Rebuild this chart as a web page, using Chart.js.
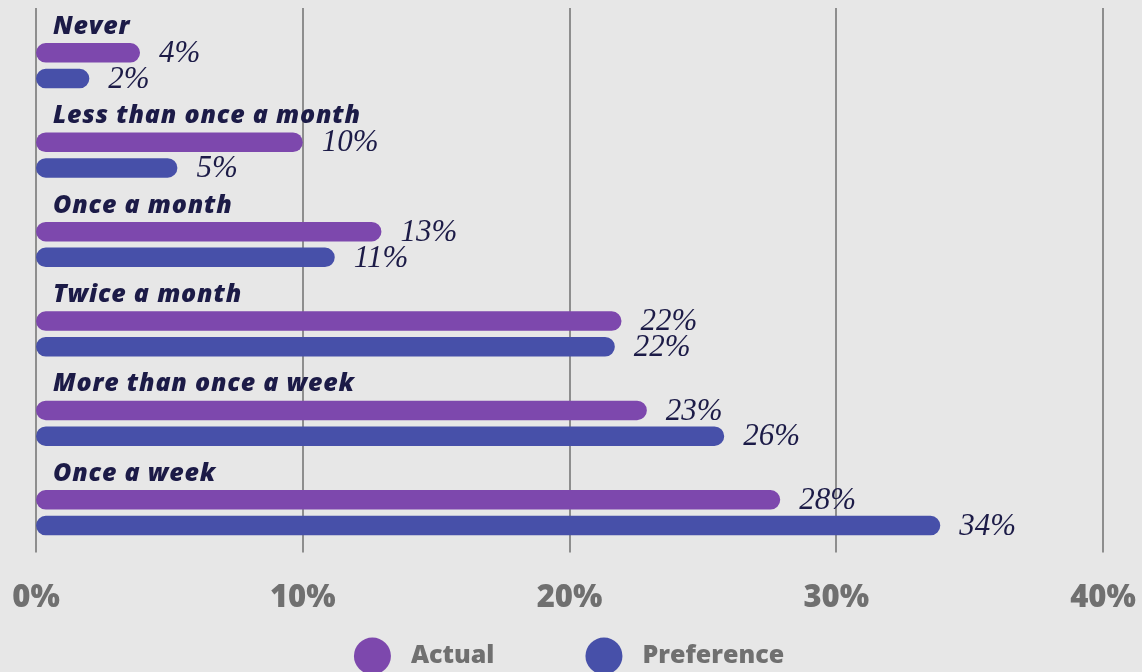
<!DOCTYPE html>
<html>
<head>
<meta charset="utf-8">
<script src="https://cdn.jsdelivr.net/npm/chart.js@4.4.0/dist/chart.umd.min.js"></script>
<style>
  html, body { margin: 0; padding: 0; background: #e7e7e7; }
  #wrap { width: 1142px; height: 672px; }
</style>
</head>
<body>
<div id="wrap"><canvas id="myChart" width="1142" height="672"></canvas></div>
<script>
// data
const categories = ["Never", "Less than once a month", "Once a month", "Twice a month", "More than once a week", "Once a week"];
const actualValues = [3.9, 10, 12.95, 21.95, 22.9, 27.9];
const preferenceValues = [2, 5.3, 11.2, 21.7, 25.8, 33.9];
const actualLabels = ["4%", "10%", "13%", "22%", "23%", "28%"];
const preferenceLabels = ["2%", "5%", "11%", "22%", "26%", "34%"];
const seriesNames = ["Actual", "Preference"];
const xTicks = [0, 10, 20, 30, 40];

const purple = "#7d48ad";
const blue = "#4750a9";
const navy = "#1c1b47";
const gray = "#707070";

// vertical grid lines, a bit taller than the chart area
const gridLines = {
  id: "gridLines",
  beforeDatasetsDraw(chart) {
    const ctx = chart.ctx;
    const x = chart.scales.x;
    const area = chart.chartArea;
    ctx.save();
    ctx.strokeStyle = "#8e8e8e";
    ctx.lineWidth = 2;
    xTicks.forEach((t) => {
      const px = Math.round(x.getPixelForValue(t));
      ctx.beginPath();
      ctx.moveTo(px, area.top - 13);
      ctx.lineTo(px, area.bottom - 5);
      ctx.stroke();
    });
    ctx.restore();
  },
};

// category names above each pair + value labels after each bar
const barLabels = {
  id: "barLabels",
  afterDatasetsDraw(chart) {
    const ctx = chart.ctx;
    const y = chart.scales.y;
    const area = chart.chartArea;
    ctx.save();
    ctx.fillStyle = navy;
    ctx.textAlign = "left";
    ctx.textBaseline = "alphabetic";
    ctx.font = "italic 800 25px 'Open Sans'";
    ctx.letterSpacing = "0.8px";
    categories.forEach((c, i) => {
      ctx.fillText(c, area.left + 17, y.getPixelForValue(i) - 32);
    });
    ctx.letterSpacing = "0px";

    const texts = [actualLabels, preferenceLabels];
    ctx.font = "italic 31px 'Liberation Serif'";
    ctx.textBaseline = "middle";
    chart.data.datasets.forEach((ds, d) => {
      chart.getDatasetMeta(d).data.forEach((bar, i) => {
        ctx.fillText(texts[d][i], bar.x + 19, bar.y + 1);
      });
    });
    ctx.restore();
  },
};

// round dot legend under the axis
const dotLegend = {
  id: "dotLegend",
  afterDraw(chart) {
    const ctx = chart.ctx;
    ctx.save();
    ctx.font = "800 25px 'Open Sans'";
    ctx.textBaseline = "middle";
    ctx.textAlign = "left";
    const r = 18.5, gap = 20, itemGap = 91;
    const widths = chart.data.datasets.map((ds) => 2 * r + gap + ctx.measureText(ds.label).width);
    const total = widths.reduce((a, b) => a + b, 0) + itemGap * (widths.length - 1);
    let x = chart.width / 2 - 2 - total / 2;
    const cy = 656;
    chart.data.datasets.forEach((ds, d) => {
      ctx.fillStyle = ds.backgroundColor;
      ctx.beginPath();
      ctx.arc(x + r, cy, r, 0, Math.PI * 2);
      ctx.fill();
      ctx.fillStyle = gray;
      ctx.fillText(ds.label, x + 2 * r + gap, cy);
      x += widths[d] + itemGap;
    });
    ctx.restore();
  },
};

const data = {
  labels: categories,
  datasets: [
    {
      label: seriesNames[0],
      data: actualValues,
      backgroundColor: purple,
      borderRadius: 10,
      borderSkipped: false,
      categoryPercentage: 0.575,
      barPercentage: 0.76,
    },
    {
      label: seriesNames[1],
      data: preferenceValues,
      backgroundColor: blue,
      borderRadius: 10,
      borderSkipped: false,
      categoryPercentage: 0.575,
      barPercentage: 0.76,
    },
  ],
};

const config = {
  type: "bar",
  data: data,
  options: {
    indexAxis: "y",
    responsive: false,
    animation: false,
    layout: { padding: { top: 21, left: 36, right: 39, bottom: 34 } },
    scales: {
      x: {
        min: 0,
        max: 40,
        ticks: {
          stepSize: 10,
          padding: 0,
          color: gray,
          font: { family: "'Open Sans'", size: 31, weight: "800", lineHeight: 2.6 },
          callback: (v) => v + "%",
        },
        grid: { display: false, drawTicks: false },
        border: { display: false },
      },
      y: {
        display: false,
      },
    },
    plugins: {
      legend: { display: false },
      tooltip: { enabled: false },
    },
  },
  plugins: [gridLines, barLabels, dotLegend],
};

const myChart = new Chart(document.getElementById("myChart"), config);
</script>
</body>
</html>
